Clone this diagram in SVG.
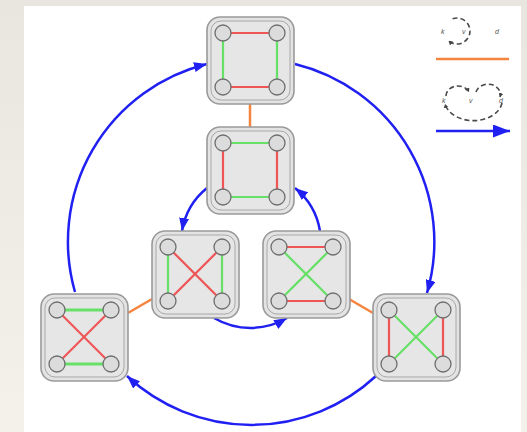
<svg xmlns="http://www.w3.org/2000/svg" width="527" height="432" viewBox="0 0 527 432">
  <defs>
    <linearGradient id="bg" x1="0" y1="0" x2="0" y2="1">
      <stop offset="0" stop-color="#e9e6e0"/>
      <stop offset="1" stop-color="#f4f1eb"/>
    </linearGradient>
    <marker id="arrow" markerUnits="userSpaceOnUse" markerWidth="14" markerHeight="10" refX="13" refY="5" orient="auto">
      <path d="M0,0 L13,5 L0,10 z" fill="#2020f2"/>
    </marker>
    <marker id="arrowBig" markerUnits="userSpaceOnUse" markerWidth="18" markerHeight="13" refX="17" refY="6.5" orient="auto">
      <path d="M0,0 L17,6.5 L0,13 z" fill="#2020f2"/>
    </marker>
    <marker id="tinyArrow" markerUnits="userSpaceOnUse" markerWidth="5" markerHeight="5" refX="4" refY="2.5" orient="auto">
      <path d="M0,0 L4,2.5 L0,5 z" fill="#444"/>
    </marker>
    <!-- shared node frame: outer rounded box with an inset inner border -->
    <g id="frame">
      <rect x="0" y="0" width="87" height="87" rx="13" fill="#e3e3e3" stroke="#9a9a9a" stroke-width="1.6"/>
      <rect x="4" y="4" width="79" height="79" rx="10" fill="#e6e6e6" stroke="#a8a8a8" stroke-width="1"/>
    </g>
    <!-- four vertices of a node -->
    <g id="dots" fill="#dcdcdc" stroke="#6e6e6e" stroke-width="1.3">
      <circle cx="16" cy="16" r="8"/>
      <circle cx="70" cy="16" r="8"/>
      <circle cx="16" cy="70" r="8"/>
      <circle cx="70" cy="70" r="8"/>
    </g>
  </defs>
  <style>
    .red { stroke: #ee5555; stroke-width: 2.2; fill: none; }
    .green { stroke: #66e066; stroke-width: 2.2; fill: none; }
    .link { stroke: #f5843f; stroke-width: 2.5; fill: none; }
    .move { stroke: #2020f2; stroke-width: 2.5; fill: none; marker-end: url(#arrow); }
    .icon { stroke: #4a4a4a; stroke-width: 1.6; fill: none; stroke-dasharray: 5 3; }
    .lbl { font-family: "Liberation Sans", Arial, sans-serif; font-size: 7px; font-style: italic; fill: #555; }
  </style>

  <!-- backdrop and white sheet -->
  <rect x="0" y="0" width="527" height="432" fill="url(#bg)"/>
  <rect x="24" y="6" width="497" height="426" fill="#ffffff"/>

  <!-- connectors -->
  <g id="connectors">
    <line class="link" x1="250" y1="104" x2="250" y2="127"/>
    <line class="link" x1="128" y1="313" x2="152" y2="299"/>
    <line class="link" x1="349" y1="299" x2="373" y2="313"/>
    <!-- outer ring -->
    <path class="move" d="M75,292 A183,183 0 0 1 207,64"/>
    <path class="move" d="M295,64 A183,183 0 0 1 427,293"/>
    <path class="move" d="M376,376 A183,183 0 0 1 127,376"/>
    <!-- inner ring -->
    <path class="move" d="M207,188 A70,70 0 0 0 182,231"/>
    <path class="move" d="M214,318 A72,72 0 0 0 287,318"/>
    <path class="move" d="M320,231 A70,70 0 0 0 295,188"/>
  </g>

  <!-- nodes -->
  <g id="n1" transform="translate(207,17)">
    <use href="#frame"/>
    <line class="red" x1="16" y1="16" x2="70" y2="16"/>
    <line class="red" x1="16" y1="70" x2="70" y2="70"/>
    <line class="green" x1="16" y1="16" x2="16" y2="70"/>
    <line class="green" x1="70" y1="16" x2="70" y2="70"/>
    <use href="#dots"/>
  </g>

  <g id="n2" transform="translate(207,127)">
    <use href="#frame"/>
    <line class="green" x1="16" y1="16" x2="70" y2="16"/>
    <line class="green" x1="16" y1="70" x2="70" y2="70"/>
    <line class="red" x1="16" y1="16" x2="16" y2="70"/>
    <line class="red" x1="70" y1="16" x2="70" y2="70"/>
    <use href="#dots"/>
  </g>

  <g id="n3" transform="translate(152,231)">
    <use href="#frame"/>
    <line class="green" x1="16" y1="16" x2="16" y2="70"/>
    <line class="green" x1="70" y1="16" x2="70" y2="70"/>
    <line class="red" x1="16" y1="16" x2="70" y2="70"/>
    <line class="red" x1="70" y1="16" x2="16" y2="70"/>
    <use href="#dots"/>
  </g>

  <g id="n4" transform="translate(263,231)">
    <use href="#frame"/>
    <line class="red" x1="16" y1="16" x2="70" y2="16"/>
    <line class="red" x1="16" y1="70" x2="70" y2="70"/>
    <line class="green" x1="16" y1="16" x2="70" y2="70"/>
    <line class="green" x1="70" y1="16" x2="16" y2="70"/>
    <use href="#dots"/>
  </g>

  <g id="n5" transform="translate(41,294)">
    <use href="#frame"/>
    <line class="green" x1="16" y1="16" x2="70" y2="16" style="stroke-width:3"/>
    <line class="green" x1="16" y1="70" x2="70" y2="70" style="stroke-width:3"/>
    <line class="red" x1="16" y1="16" x2="70" y2="70"/>
    <line class="red" x1="70" y1="16" x2="16" y2="70"/>
    <use href="#dots"/>
  </g>

  <g id="n6" transform="translate(373,294)">
    <use href="#frame"/>
    <line class="red" x1="16" y1="16" x2="16" y2="70"/>
    <line class="red" x1="70" y1="16" x2="70" y2="70"/>
    <line class="green" x1="16" y1="16" x2="70" y2="70"/>
    <line class="green" x1="70" y1="16" x2="16" y2="70"/>
    <use href="#dots"/>
  </g>

  <!-- legend -->
  <g id="legend">
    <path class="icon" d="M452.6,18.8 A13,13 0 1 1 448.6,41" marker-end="url(#tinyArrow)"/>
    <text class="lbl" x="441" y="34">k</text>
    <text class="lbl" x="462" y="34">v</text>
    <text class="lbl" x="495" y="34">d</text>
    <line class="link" x1="436" y1="59" x2="509" y2="59"/>

    <path class="icon" d="M446,96 A12,10 0 0 1 469,92" marker-end="url(#tinyArrow)"/>
    <path class="icon" d="M476,92 A12,10 0 0 1 500,97" marker-end="url(#tinyArrow)"/>
    <path class="icon" d="M502,103 A29,21 0 0 1 445,104" marker-end="url(#tinyArrow)"/>
    <text class="lbl" x="442" y="103">k</text>
    <text class="lbl" x="469" y="103">v</text>
    <text class="lbl" x="499" y="103">d</text>
    <line stroke="#2020f2" stroke-width="2.5" x1="436" y1="131" x2="510" y2="131" marker-end="url(#arrowBig)"/>
  </g>
</svg>
